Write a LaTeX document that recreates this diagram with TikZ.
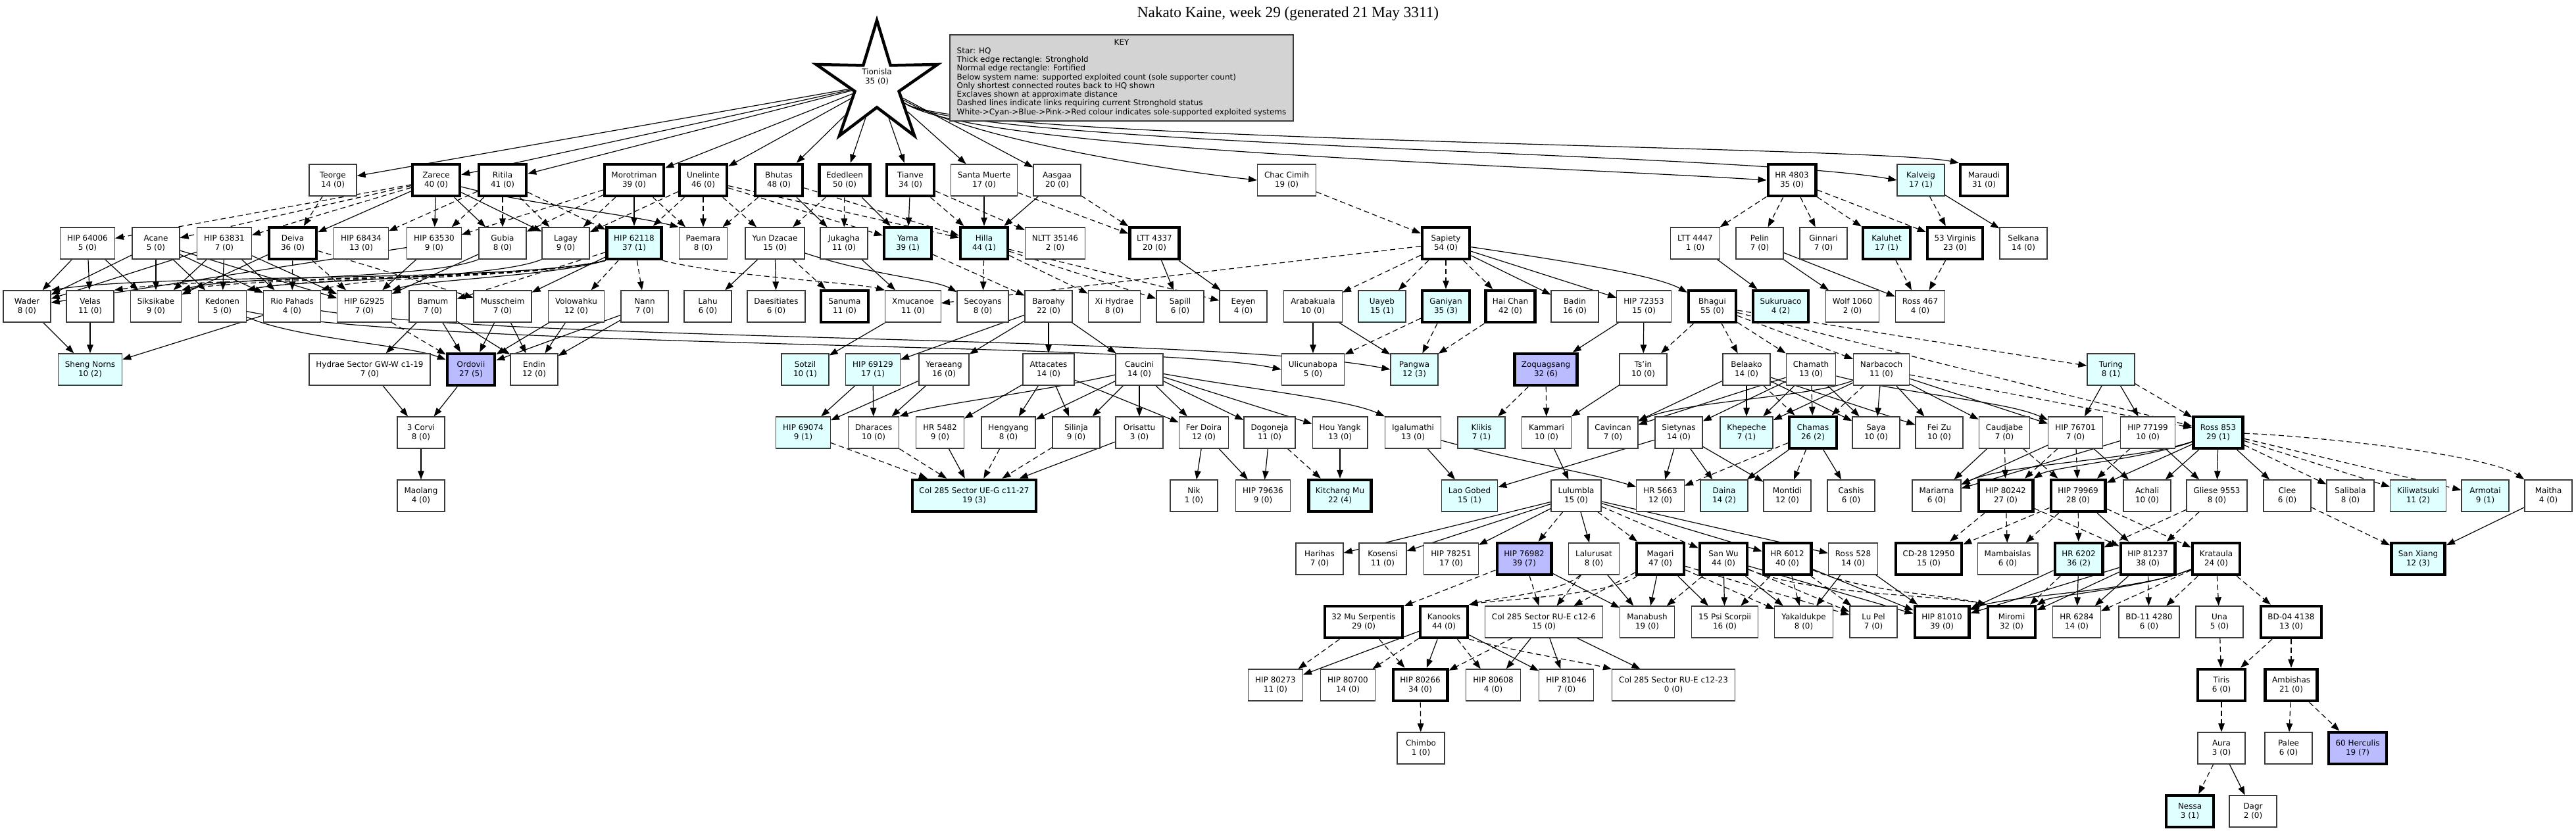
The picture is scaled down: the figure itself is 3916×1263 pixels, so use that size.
\documentclass[tikz,border=0pt]{standalone}
\usepackage{fontspec}
\setmainfont{DejaVu Sans}
\newfontfamily\titlefont{Liberation Serif}
\usetikzlibrary{arrows.meta,shapes.geometric}
\definecolor{cyanf}{HTML}{E0FFFF}
\definecolor{bluef}{HTML}{BBBBFF}
\definecolor{keyf}{HTML}{D3D3D3}
\definecolor{bord}{HTML}{3A3A3A}
\pgfdeclarelayer{bg}
\pgfsetlayers{bg,main}
\begin{document}
\begin{tikzpicture}[x=1bp,y=-1bp,
  sys/.style={draw=bord, line width=1.3bp, fill=white, minimum width=72bp, minimum height=48bp,
    inner xsep=10.5bp, inner ysep=2bp, align=center, font=\fontsize{12}{14}\selectfont},
  strong/.style={draw=black, line width=4.5bp},
  cy/.style={fill=cyanf},
  bl/.style={fill=bluef},
  sol/.style={line width=1.2bp, -{Triangle[length=13bp,width=9.5bp]}},
  dsh/.style={sol, dash pattern=on 8bp off 5bp}]
\useasboundingbox (0,0) rectangle (3916,1263);

% title, key, HQ
\node[font=\titlefont\fontsize{23.3}{28}\selectfont] (title) at (1958,21) {Nakato Kaine, week 29 (generated 21 May 3311)};
\node[draw=bord, line width=1.3bp, fill=keyf, minimum width=522bp, minimum height=131bp, inner sep=0pt,
  font=\fontsize{12}{13.3}\selectfont] (key) at (1705,118.5)
  {\begin{tabular}{@{}l@{}}\multicolumn{1}{@{}c@{}}{KEY}\\
  Star: HQ\\
  Thick edge rectangle: Stronghold\\
  Normal edge rectangle: Fortified\\
  Below system name: supported exploited count (sole supporter count)\\
  Only shortest connected routes back to HQ shown\\
  Exclaves shown at approximate distance\\
  Dashed lines indicate links requiring current Stronghold status\\
  White->Cyan->Blue->Pink->Red colour indicates sole-supported exploited systems\end{tabular}};
\node[star, star points=5, star point ratio=2.75, minimum size=194bp, inner sep=0pt, draw=black, line width=4.5bp, fill=white] (hq) at (1333,128) {};
\node[align=center, font=\fontsize{12}{14}\selectfont] (hqlabel) at (1333,117) {Tionisla\\35 (0)};

% Row A
\node[sys] (teorge) at (506,274) {Teorge\\14 (0)};
\node[sys,strong] (zarece) at (663,274) {Zarece\\40 (0)};
\node[sys,strong] (ritila) at (764,274) {Ritila\\41 (0)};
\node[sys,strong] (morotriman) at (964,274) {Morotriman\\39 (0)};
\node[sys,strong] (unelinte) at (1069,274) {Unelinte\\46 (0)};
\node[sys,strong] (bhutas) at (1184,274) {Bhutas\\48 (0)};
\node[sys,strong] (ededleen) at (1284,274) {Ededleen\\50 (0)};
\node[sys,strong] (tianve) at (1384,274) {Tianve\\34 (0)};
\node[sys] (santamuerte) at (1496,274) {Santa Muerte\\17 (0)};
\node[sys] (aasgaa) at (1607,274) {Aasgaa\\20 (0)};
\node[sys] (chaccimih) at (1956,274) {Chac Cimih\\19 (0)};
\node[sys,strong] (hr4803) at (2724,274) {HR 4803\\35 (0)};
\node[sys,cy] (kalveig) at (2920,274) {Kalveig\\17 (1)};
\node[sys,strong] (maraudi) at (3016,274) {Maraudi\\31 (0)};

% Row B
\node[sys] (hip64006) at (133,370) {HIP 64006\\5 (0)};
\node[sys] (acane) at (237,370) {Acane\\5 (0)};
\node[sys] (hip63831) at (341,370) {HIP 63831\\7 (0)};
\node[sys,strong] (deiva) at (445,370) {Deiva\\36 (0)};
\node[sys] (hip68434) at (549,370) {HIP 68434\\13 (0)};
\node[sys] (hip63530) at (660,370) {HIP 63530\\9 (0)};
\node[sys] (gubia) at (764,370) {Gubia\\8 (0)};
\node[sys] (lagay) at (860,370) {Lagay\\9 (0)};
\node[sys,strong,cy] (hip62118) at (964,370) {HIP 62118\\37 (1)};
\node[sys] (paemara) at (1069,370) {Paemara\\8 (0)};
\node[sys] (yundzacae) at (1178,370) {Yun Dzacae\\15 (0)};
\node[sys] (jukagha) at (1283,370) {Jukagha\\11 (0)};
\node[sys,strong,cy] (yama) at (1380,370) {Yama\\39 (1)};
\node[sys,strong,cy] (hilla) at (1496,370) {Hilla\\44 (1)};
\node[sys] (nltt) at (1604,370) {NLTT 35146\\2 (0)};
\node[sys,strong] (ltt4337) at (1755,370) {LTT 4337\\20 (0)};
\node[sys,strong] (sapiety) at (2198,370) {Sapiety\\54 (0)};
\node[sys] (ltt4447) at (2577,370) {LTT 4447\\1 (0)};
\node[sys] (pelin) at (2675,370) {Pelin\\7 (0)};
\node[sys] (ginnari) at (2772,370) {Ginnari\\7 (0)};
\node[sys,strong,cy] (kaluhet) at (2868,370) {Kaluhet\\17 (1)};
\node[sys,strong] (vir53) at (2972,370) {53 Virginis\\23 (0)};
\node[sys] (selkana) at (3076,370) {Selkana\\14 (0)};

% Row C
\node[sys] (wader) at (41,466) {Wader\\8 (0)};
\node[sys] (velas) at (137,466) {Velas\\11 (0)};
\node[sys] (siksikabe) at (237,466) {Siksikabe\\9 (0)};
\node[sys] (kedonen) at (338,466) {Kedonen\\5 (0)};
\node[sys] (riopahads) at (444,466) {Rio Pahads\\4 (0)};
\node[sys] (hip62925) at (554,466) {HIP 62925\\7 (0)};
\node[sys] (bamum) at (658,466) {Bamum\\7 (0)};
\node[sys] (musscheim) at (764,466) {Musscheim\\7 (0)};
\node[sys] (volowahku) at (876,466) {Volowahku\\12 (0)};
\node[sys] (nann) at (980,466) {Nann\\7 (0)};
\node[sys] (lahu) at (1076,466) {Lahu\\6 (0)};
\node[sys] (daesitiates) at (1180,466) {Daesitiates\\6 (0)};
\node[sys,strong] (sanuma) at (1284,466) {Sanuma\\11 (0)};
\node[sys] (xmucanoe) at (1388,466) {Xmucanoe\\11 (0)};
\node[sys] (secoyans) at (1494,466) {Secoyans\\8 (0)};
\node[sys] (baroahy) at (1594,466) {Baroahy\\22 (0)};
\node[sys] (xihydrae) at (1694,466) {Xi Hydrae\\8 (0)};
\node[sys] (sapill) at (1794,466) {Sapill\\6 (0)};
\node[sys] (eeyen) at (1890,466) {Eeyen\\4 (0)};
\node[sys] (arabakuala) at (1996,466) {Arabakuala\\10 (0)};
\node[sys,cy] (uayeb) at (2101,466) {Uayeb\\15 (1)};
\node[sys,strong,cy] (ganiyan) at (2198,466) {Ganiyan\\35 (3)};
\node[sys,strong] (haichan) at (2296,466) {Hai Chan\\42 (0)};
\node[sys] (badin) at (2394,466) {Badin\\16 (0)};
\node[sys] (hip72353) at (2499,466) {HIP 72353\\15 (0)};
\node[sys,strong] (bhagui) at (2603,466) {Bhagui\\55 (0)};
\node[sys,strong,cy] (sukuruaco) at (2707,466) {Sukuruaco\\4 (2)};
\node[sys] (wolf) at (2816,466) {Wolf 1060\\2 (0)};
\node[sys] (ross467) at (2919,466) {Ross 467\\4 (0)};

% Row D
\node[sys,cy] (shengnorns) at (137,562) {Sheng Norns\\10 (2)};
\node[sys] (hydrae) at (562,562) {Hydrae Sector GW-W c1-19\\7 (0)};
\node[sys,strong,bl] (ordovii) at (716,562) {Ordovii\\27 (5)};
\node[sys] (endin) at (812,562) {Endin\\12 (0)};
\node[sys,cy] (sotzil) at (1224,562) {Sotzil\\10 (1)};
\node[sys,cy] (hip69129) at (1327,562) {HIP 69129\\17 (1)};
\node[sys] (yeraeang) at (1435,562) {Yeraeang\\16 (0)};
\node[sys] (attacates) at (1594,562) {Attacates\\14 (0)};
\node[sys] (caucini) at (1732,562) {Caucini\\14 (0)};
\node[sys] (ulicunabopa) at (1996,562) {Ulicunabopa\\5 (0)};
\node[sys,cy] (pangwa) at (2150,562) {Pangwa\\12 (3)};
\node[sys,strong,bl] (zoquagsang) at (2350,562) {Zoquagsang\\32 (6)};
\node[sys] (tsin) at (2498,562) {Ts'in\\10 (0)};
\node[sys] (belaako) at (2655,562) {Belaako\\14 (0)};
\node[sys] (chamath) at (2753,562) {Chamath\\13 (0)};
\node[sys] (narbacoch) at (2860,562) {Narbacoch\\11 (0)};
\node[sys,cy] (turing) at (3209,562) {Turing\\8 (1)};

% Row E
\node[sys] (corvi) at (640,658) {3 Corvi\\8 (0)};
\node[sys,cy] (hip69074) at (1221,658) {HIP 69074\\9 (1)};
\node[sys] (dharaces) at (1328,658) {Dharaces\\10 (0)};
\node[sys] (hr5482) at (1429,658) {HR 5482\\9 (0)};
\node[sys] (hengyang) at (1533,658) {Hengyang\\8 (0)};
\node[sys] (silinja) at (1636,658) {Silinja\\9 (0)};
\node[sys] (orisattu) at (1732,658) {Orisattu\\3 (0)};
\node[sys] (ferdoira) at (1830,658) {Fer Doira\\12 (0)};
\node[sys] (dogoneja) at (1930,658) {Dogoneja\\11 (0)};
\node[sys] (houyangk) at (2037,658) {Hou Yangk\\13 (0)};
\node[sys] (igalumathi) at (2148,658) {Igalumathi\\13 (0)};
\node[sys,cy] (klikis) at (2252,658) {Klikis\\7 (1)};
\node[sys] (kammari) at (2351,658) {Kammari\\10 (0)};
\node[sys] (cavincan) at (2452,658) {Cavincan\\7 (0)};
\node[sys] (sietynas) at (2552,658) {Sietynas\\14 (0)};
\node[sys,cy] (khepeche) at (2655,658) {Khepeche\\7 (1)};
\node[sys,strong,cy] (chamas) at (2756,658) {Chamas\\26 (2)};
\node[sys] (saya) at (2852,658) {Saya\\10 (0)};
\node[sys] (feizu) at (2948,658) {Fei Zu\\10 (0)};
\node[sys] (caudjabe) at (3047,658) {Caudjabe\\7 (0)};
\node[sys] (hip76701) at (3155,658) {HIP 76701\\7 (0)};
\node[sys] (hip77199) at (3265,658) {HIP 77199\\10 (0)};
\node[sys,strong,cy] (ross853) at (3372,658) {Ross 853\\29 (1)};

% Row F
\node[sys] (maolang) at (640,754) {Maolang\\4 (0)};
\node[sys,strong,cy] (colueg) at (1481,754) {Col 285 Sector UE-G c11-27\\19 (3)};
\node[sys] (nik) at (1815,754) {Nik\\1 (0)};
\node[sys] (hip79636) at (1920,754) {HIP 79636\\9 (0)};
\node[sys,strong,cy] (kitchang) at (2037,754) {Kitchang Mu\\22 (4)};
\node[sys,cy] (laogobed) at (2234,754) {Lao Gobed\\15 (1)};
\node[sys] (lulumbla) at (2396,754) {Lulumbla\\15 (0)};
\node[sys] (hr5663) at (2524,754) {HR 5663\\12 (0)};
\node[sys,cy] (daina) at (2621,754) {Daina\\14 (2)};
\node[sys] (montidi) at (2717,754) {Montidi\\12 (0)};
\node[sys] (cashis) at (2814,754) {Cashis\\6 (0)};
\node[sys] (mariarna) at (2944,754) {Mariarna\\6 (0)};
\node[sys,strong] (hip80242) at (3049,754) {HIP 80242\\27 (0)};
\node[sys,strong] (hip79969) at (3159,754) {HIP 79969\\28 (0)};
\node[sys] (achali) at (3264,754) {Achali\\10 (0)};
\node[sys] (gliese) at (3370,754) {Gliese 9553\\8 (0)};
\node[sys] (clee) at (3477,754) {Clee\\6 (0)};
\node[sys] (salibala) at (3573,754) {Salibala\\8 (0)};
\node[sys,cy] (kiliwatsuki) at (3676,754) {Kiliwatsuki\\11 (2)};
\node[sys,cy] (armotai) at (3778,754) {Armotai\\9 (1)};
\node[sys] (maitha) at (3874,754) {Maitha\\4 (0)};

% Row G
\node[sys] (harihas) at (2006,850) {Harihas\\7 (0)};
\node[sys] (kosensi) at (2102,850) {Kosensi\\11 (0)};
\node[sys] (hip78251) at (2206,850) {HIP 78251\\17 (0)};
\node[sys,strong,bl] (hip76982) at (2317,850) {HIP 76982\\39 (7)};
\node[sys] (lalurusat) at (2423,850) {Lalurusat\\8 (0)};
\node[sys,strong] (magari) at (2524,850) {Magari\\47 (0)};
\node[sys,strong] (sanwu) at (2620,850) {San Wu\\44 (0)};
\node[sys,strong] (hr6012) at (2717,850) {HR 6012\\40 (0)};
\node[sys] (ross528) at (2817,850) {Ross 528\\14 (0)};
\node[sys,strong] (cd28) at (2932,850) {CD-28 12950\\15 (0)};
\node[sys] (mambaislas) at (3052,850) {Mambaislas\\6 (0)};
\node[sys,strong,cy] (hr6202) at (3160,850) {HR 6202\\36 (2)};
\node[sys,strong] (hip81237) at (3265,850) {HIP 81237\\38 (0)};
\node[sys,strong] (krataula) at (3369,850) {Krataula\\24 (0)};
\node[sys,strong,cy] (sanxiang) at (3676,850) {San Xiang\\12 (3)};

% Row H
\node[sys,strong] (mu32) at (2073,946) {32 Mu Serpentis\\29 (0)};
\node[sys,strong] (kanooks) at (2195,946) {Kanooks\\44 (0)};
\node[sys] (colrue6) at (2347,946) {Col 285 Sector RU-E c12-6\\15 (0)};
\node[sys] (manabush) at (2504,946) {Manabush\\19 (0)};
\node[sys] (psi15) at (2622,946) {15 Psi Scorpii\\16 (0)};
\node[sys] (yakaldukpe) at (2742,946) {Yakaldukpe\\8 (0)};
\node[sys] (lupel) at (2848,946) {Lu Pel\\7 (0)};
\node[sys,strong] (hip81010) at (2952,946) {HIP 81010\\39 (0)};
\node[sys,strong] (miromi) at (3058,946) {Miromi\\32 (0)};
\node[sys] (hr6284) at (3157,946) {HR 6284\\14 (0)};
\node[sys] (bd11) at (3267,946) {BD-11 4280\\6 (0)};
\node[sys] (una) at (3374,946) {Una\\5 (0)};
\node[sys,strong] (bd04) at (3483,946) {BD-04 4138\\13 (0)};

% Row I
\node[sys] (hip80273) at (1939,1042) {HIP 80273\\11 (0)};
\node[sys] (hip80700) at (2049,1042) {HIP 80700\\14 (0)};
\node[sys,strong] (hip80266) at (2159,1042) {HIP 80266\\34 (0)};
\node[sys] (hip80608) at (2270,1042) {HIP 80608\\4 (0)};
\node[sys] (hip81046) at (2381,1042) {HIP 81046\\7 (0)};
\node[sys] (colrue23) at (2544,1042) {Col 285 Sector RU-E c12-23\\0 (0)};
\node[sys,strong] (tiris) at (3377,1042) {Tiris\\6 (0)};
\node[sys,strong] (ambishas) at (3483,1042) {Ambishas\\21 (0)};

% Row J, K
\node[sys] (chimbo) at (2160,1138) {Chimbo\\1 (0)};
\node[sys] (aura) at (3377,1138) {Aura\\3 (0)};
\node[sys] (palee) at (3479,1138) {Palee\\6 (0)};
\node[sys,strong,bl] (herc60) at (3584,1138) {60 Herculis\\19 (7)};
\node[sys,strong,cy] (nessa) at (3329,1234) {Nessa\\3 (1)};
\node[sys] (dagr) at (3425,1234) {Dagr\\2 (0)};

\begin{pgfonlayer}{bg}
\fill[white] (0,0) rectangle (3916,1263);
% HQ
\draw[sol] (hq) -- (teorge);
\draw[sol] (hq) -- (zarece);
\draw[sol] (hq) -- (ritila);
\draw[sol] (hq) -- (morotriman);
\draw[sol] (hq) -- (unelinte);
\draw[sol] (hq) -- (bhutas);
\draw[sol] (hq) -- (ededleen);
\draw[sol] (hq) -- (tianve);
\draw[sol] (hq) -- (santamuerte);
\draw[sol] (hq) -- (aasgaa);
\draw[sol] (hq) .. controls (1480,215) and (1800,262) .. (chaccimih.west);
\draw[sol] (hq) .. controls (1480,228) and (2300,250) .. (hr4803.west);
\draw[sol] (hq) .. controls (1470,222) and (2650,232) .. (kalveig.west);
\draw[sol] (hq) .. controls (1460,215) and (2850,222) .. (maraudi.north west);
% A -> B
\draw[dsh] (teorge) -- (deiva);
\draw[dsh] (zarece) -- (hip64006);
\draw[dsh] (zarece) -- (acane);
\draw[dsh] (zarece) -- (hip63831);
\draw[sol] (zarece) -- (deiva);
\draw[sol] (zarece) -- (hip63530);
\draw[sol] (zarece) -- (gubia);
\draw[sol] (zarece) -- (lagay);
\draw[sol] (zarece) .. controls (800,310) and (950,325) .. (paemara.north west);
\draw[dsh] (ritila) -- (hip68434);
\draw[dsh] (ritila) -- (hip63530);
\draw[dsh] (ritila) -- (gubia);
\draw[dsh] (ritila) -- (lagay);
\draw[dsh] (ritila) -- (hip62118);
\draw[sol] (morotriman) -- (hip62118);
\draw[dsh] (morotriman) -- (lagay);
\draw[dsh] (morotriman) -- (gubia);
\draw[dsh] (morotriman) -- (paemara);
\draw[dsh] (morotriman) -- (hip63530);
\draw[dsh] (unelinte) -- (paemara);
\draw[dsh] (unelinte) -- (yundzacae);
\draw[dsh] (unelinte) -- (hip62118);
\draw[dsh] (unelinte) -- (lagay);
\draw[dsh] (unelinte) -- (yama);
\draw[dsh] (unelinte) -- (hilla);
\draw[sol] (bhutas) -- (jukagha);
\draw[dsh] (bhutas) -- (paemara);
\draw[dsh] (bhutas) -- (hilla);
\draw[dsh] (ededleen) -- (jukagha);
\draw[sol] (ededleen) -- (yama);
\draw[dsh] (ededleen) -- (yundzacae);
\draw[sol] (tianve) -- (yama);
\draw[dsh] (tianve) -- (nltt);
\draw[dsh] (tianve) -- (hilla);
\draw[sol] (santamuerte) -- (hilla);
\draw[dsh] (santamuerte) -- (ltt4337);
\draw[sol] (aasgaa) -- (hilla);
\draw[dsh] (aasgaa) -- (ltt4337);
\draw[dsh] (chaccimih) -- (sapiety);
\draw[dsh] (hr4803) -- (ltt4447);
\draw[dsh] (hr4803) -- (pelin);
\draw[dsh] (hr4803) -- (ginnari);
\draw[dsh] (hr4803) -- (kaluhet);
\draw[dsh] (hr4803) -- (vir53);
\draw[dsh] (kalveig) -- (vir53);
\draw[sol] (kalveig) -- (selkana);
% B -> C
\draw[sol] (hip64006) -- (wader);
\draw[sol] (hip64006) -- (velas);
\draw[sol] (hip64006) -- (siksikabe);
\draw[sol] (acane) -- (wader);
\draw[sol] (acane) -- (siksikabe);
\draw[sol] (acane) -- (kedonen);
\draw[sol] (acane) -- (riopahads);
\draw[sol] (acane) -- (hip62925);
\draw[sol] (hip63831) -- (wader);
\draw[sol] (hip63831) -- (siksikabe);
\draw[sol] (hip63831) -- (kedonen);
\draw[sol] (hip63831) -- (riopahads);
\draw[sol] (hip63831) -- (hip62925);
\draw[sol] (deiva) -- (siksikabe);
\draw[dsh] (deiva) -- (riopahads);
\draw[dsh] (deiva) -- (hip62925);
\draw[dsh] (deiva) -- (musscheim);
\draw[sol] (hip63530) -- (wader);
\draw[sol] (hip63530) -- (hip62925);
\draw[sol] (gubia.south west) .. controls (650,425) and (350,420) .. (siksikabe.north east);
\draw[sol] (gubia) -- (hip62925);
\draw[sol] (lagay.south west) .. controls (750,425) and (450,425) .. (kedonen.north east);
\draw[sol] (hip62118.south west) .. controls (780,430) and (250,415) .. (wader.north east);
\draw[dsh] (hip62118.south west) .. controls (790,428) and (320,420) .. (velas.north east);
\draw[dsh] (hip62118.south west) .. controls (800,426) and (400,420) .. (siksikabe.north east);
\draw[dsh] (hip62118.south west) .. controls (810,424) and (480,420) .. (kedonen.north east);
\draw[dsh] (hip62118.south west) .. controls (820,422) and (560,420) .. (riopahads.north east);
\draw[sol] (hip62118.south west) .. controls (840,420) and (650,425) .. (hip62925.north east);
\draw[dsh] (hip62118) -- (bamum);
\draw[sol] (hip62118) -- (musscheim);
\draw[dsh] (hip62118) -- (volowahku);
\draw[dsh] (hip62118) -- (nann);
\draw[dsh] (hip62118.south east) .. controls (1100,420) and (1300,430) .. (xmucanoe.north west);
\draw[sol] (yundzacae) -- (lahu);
\draw[sol] (yundzacae) -- (daesitiates);
\draw[dsh] (yundzacae) -- (sanuma);
\draw[sol] (yundzacae) .. controls (1330,420) and (1420,425) .. (secoyans);
\draw[sol] (jukagha) -- (xmucanoe);
\draw[dsh] (yama) -- (baroahy);
\draw[dsh] (hilla) -- (secoyans);
\draw[dsh] (hilla) -- (xihydrae);
\draw[dsh] (hilla) -- (sapill);
\draw[dsh] (hilla) -- (eeyen);
\draw[sol] (ltt4337) -- (sapill);
\draw[sol] (ltt4337) -- (eeyen);
\draw[dsh] (sapiety) -- (xmucanoe);
\draw[dsh] (sapiety) -- (arabakuala);
\draw[dsh] (sapiety) -- (uayeb);
\draw[dsh] (sapiety) -- (ganiyan);
\draw[dsh] (sapiety) -- (haichan);
\draw[sol] (sapiety) -- (badin);
\draw[sol] (sapiety) -- (hip72353);
\draw[sol] (sapiety) .. controls (2400,400) and (2520,420) .. (bhagui);
\draw[sol] (ltt4447) -- (sukuruaco);
\draw[sol] (pelin) -- (wolf);
\draw[sol] (pelin) -- (ross467);
\draw[dsh] (kaluhet) -- (ross467);
\draw[dsh] (vir53) -- (ross467);
% C -> D
\draw[sol] (wader) -- (shengnorns);
\draw[sol] (velas) -- (shengnorns);
\draw[sol] (riopahads) -- (shengnorns);
\draw[sol] (kedonen) .. controls (450,515) and (620,525) .. (ordovii);
\draw[sol] (kedonen) .. controls (650,530) and (1750,520) .. (ulicunabopa.west);
\draw[sol] (riopahads) .. controls (800,520) and (1850,510) .. (pangwa.west);
\draw[dsh] (hip62925) -- (ordovii);
\draw[sol] (bamum) -- (hydrae);
\draw[sol] (bamum) -- (ordovii);
\draw[sol] (bamum) -- (endin);
\draw[sol] (musscheim) -- (ordovii);
\draw[sol] (musscheim) -- (endin);
\draw[sol] (volowahku) -- (ordovii);
\draw[sol] (volowahku) -- (endin);
\draw[sol] (nann) -- (ordovii);
\draw[sol] (nann) -- (endin);
\draw[sol] (xmucanoe) -- (sotzil);
\draw[sol] (baroahy) -- (hip69129);
\draw[sol] (baroahy) -- (yeraeang);
\draw[sol] (baroahy) -- (attacates);
\draw[sol] (baroahy) -- (caucini);
\draw[sol] (arabakuala) -- (ulicunabopa);
\draw[sol] (arabakuala) -- (pangwa);
\draw[dsh] (ganiyan) -- (ulicunabopa);
\draw[dsh] (ganiyan) -- (pangwa);
\draw[dsh] (haichan) -- (pangwa);
\draw[sol] (hip72353) -- (zoquagsang);
\draw[sol] (hip72353) -- (tsin);
\draw[dsh] (bhagui) -- (tsin);
\draw[dsh] (bhagui) -- (belaako);
\draw[dsh] (bhagui) -- (chamath);
\draw[dsh] (bhagui) -- (narbacoch);
\draw[dsh] (bhagui) -- (turing);
\draw[dsh] (bhagui) -- (ross853);
% D -> E
\draw[sol] (hydrae) -- (corvi);
\draw[sol] (ordovii) -- (corvi);
\draw[sol] (hip69129) -- (hip69074);
\draw[sol] (hip69129) -- (dharaces);
\draw[sol] (yeraeang) -- (hip69074);
\draw[sol] (yeraeang) -- (dharaces);
\draw[sol] (attacates) -- (hr5482);
\draw[sol] (attacates) -- (hengyang);
\draw[sol] (attacates) -- (silinja);
\draw[sol] (attacates) -- (ferdoira);
\draw[sol] (caucini) .. controls (1560,600) and (1420,615) .. (dharaces.north east);
\draw[sol] (caucini) -- (hengyang);
\draw[sol] (caucini) -- (silinja);
\draw[sol] (caucini) -- (orisattu);
\draw[sol] (caucini) -- (ferdoira);
\draw[sol] (caucini) -- (dogoneja);
\draw[sol] (caucini) -- (houyangk);
\draw[sol] (caucini) .. controls (1900,592) and (2050,608) .. (igalumathi.north west);
\draw[dsh] (zoquagsang) -- (klikis);
\draw[dsh] (zoquagsang) -- (kammari);
\draw[sol] (tsin) -- (kammari);
\draw[sol] (belaako) -- (cavincan);
\draw[sol] (belaako) -- (khepeche);
\draw[dsh] (belaako) -- (chamas);
\draw[sol] (belaako) -- (saya);
\draw[sol] (belaako) -- (feizu);
\draw[sol] (chamath) -- (cavincan);
\draw[sol] (chamath) -- (sietynas);
\draw[sol] (chamath) -- (khepeche);
\draw[dsh] (chamath) -- (chamas);
\draw[sol] (chamath) -- (saya);
\draw[sol] (chamath) .. controls (2900,600) and (3050,610) .. (hip76701);
\draw[sol] (narbacoch) .. controls (2750,605) and (2560,610) .. (cavincan);
\draw[sol] (narbacoch) -- (khepeche);
\draw[dsh] (narbacoch) -- (chamas);
\draw[sol] (narbacoch) -- (saya);
\draw[sol] (narbacoch) -- (feizu);
\draw[sol] (narbacoch) -- (caudjabe);
\draw[sol] (narbacoch) -- (hip76701);
\draw[dsh] (narbacoch) -- (ross853);
\draw[sol] (turing) -- (hip76701);
\draw[sol] (turing) -- (hip77199);
\draw[dsh] (turing) -- (ross853);
% E -> F
\draw[sol] (corvi) -- (maolang);
\draw[dsh] (hip69074) -- (colueg);
\draw[dsh] (dharaces) -- (colueg);
\draw[sol] (hr5482) -- (colueg);
\draw[dsh] (hengyang) -- (colueg);
\draw[dsh] (silinja) -- (colueg);
\draw[sol] (orisattu) -- (colueg);
\draw[sol] (ferdoira) -- (nik);
\draw[sol] (ferdoira) -- (hip79636);
\draw[sol] (dogoneja) -- (hip79636);
\draw[dsh] (dogoneja) -- (kitchang);
\draw[sol] (houyangk) -- (kitchang);
\draw[sol] (igalumathi) -- (laogobed);
\draw[sol] (igalumathi) .. controls (2300,700) and (2420,720) .. (hr5663.160);
\draw[sol] (kammari) -- (lulumbla);
\draw[sol] (sietynas) -- (laogobed);
\draw[sol] (sietynas) -- (hr5663);
\draw[sol] (sietynas) -- (daina);
\draw[sol] (sietynas) -- (montidi);
\draw[dsh] (chamas) -- (hr5663);
\draw[sol] (chamas) -- (daina);
\draw[dsh] (chamas) -- (montidi);
\draw[sol] (chamas) -- (cashis);
\draw[sol] (caudjabe) -- (mariarna);
\draw[dsh] (caudjabe) -- (hip80242);
\draw[dsh] (caudjabe) -- (hip79969);
\draw[sol] (hip76701) -- (mariarna);
\draw[dsh] (hip76701) -- (hip80242);
\draw[dsh] (hip76701) -- (hip79969);
\draw[sol] (hip76701) -- (achali);
\draw[sol] (hip77199) -- (mariarna);
\draw[dsh] (hip77199) -- (hip79969);
\draw[sol] (hip77199) -- (gliese);
\draw[sol] (ross853) .. controls (3250,700) and (3050,705) .. (mariarna);
\draw[sol] (ross853) .. controls (3260,698) and (3120,710) .. (hip80242);
\draw[sol] (ross853) -- (hip79969);
\draw[sol] (ross853) -- (achali);
\draw[sol] (ross853) -- (gliese);
\draw[sol] (ross853) -- (clee);
\draw[dsh] (ross853) -- (salibala);
\draw[dsh] (ross853) -- (kiliwatsuki);
\draw[dsh] (ross853) -- (armotai);
\draw[dsh] (ross853) .. controls (3500,662) and (3780,690) .. (maitha.north west);
% F -> G
\draw[sol] (lulumbla) -- (harihas);
\draw[sol] (lulumbla) -- (kosensi);
\draw[sol] (lulumbla) -- (hip78251);
\draw[dsh] (lulumbla) -- (hip76982);
\draw[sol] (lulumbla) -- (lalurusat);
\draw[dsh] (lulumbla) -- (magari);
\draw[dsh] (lulumbla) -- (sanwu);
\draw[sol] (lulumbla) -- (hr6012);
\draw[sol] (lulumbla) -- (ross528);
\draw[dsh] (hip80242) -- (cd28);
\draw[dsh] (hip80242) -- (mambaislas);
\draw[dsh] (hip80242) -- (hip81237);
\draw[dsh] (hip79969) -- (cd28);
\draw[dsh] (hip79969) -- (mambaislas);
\draw[dsh] (hip79969) -- (hr6202);
\draw[sol] (hip79969) -- (hip81237);
\draw[dsh] (hip79969) -- (krataula);
\draw[dsh] (gliese) -- (hr6202);
\draw[dsh] (gliese) -- (hip81237);
\draw[dsh] (clee) -- (sanxiang);
\draw[sol] (maitha) -- (sanxiang);
% G -> H
\draw[dsh] (hip76982) -- (mu32);
\draw[dsh] (hip76982) -- (colrue6);
\draw[sol] (hip76982) -- (manabush);
\draw[dsh] (lalurusat) .. controls (2380,900) and (2270,910) .. (kanooks.north east);
\draw[dsh] (lalurusat) -- (colrue6);
\draw[sol] (lalurusat) -- (manabush);
\draw[dsh] (magari) .. controls (2450,905) and (2280,912) .. (kanooks.north east);
\draw[dsh] (magari) -- (colrue6);
\draw[sol] (magari) -- (manabush);
\draw[sol] (magari) -- (psi15);
\draw[dsh] (magari) -- (yakaldukpe);
\draw[dsh] (magari) -- (lupel);
\draw[sol] (sanwu) -- (psi15);
\draw[sol] (sanwu) -- (yakaldukpe);
\draw[dsh] (sanwu) -- (manabush);
\draw[dsh] (sanwu) -- (lupel);
\draw[sol] (sanwu) -- (hip81010);
\draw[dsh] (sanwu) .. controls (2750,905) and (2950,905) .. (miromi.north west);
\draw[dsh] (hr6012) -- (psi15);
\draw[dsh] (hr6012) -- (yakaldukpe);
\draw[dsh] (hr6012) -- (lupel);
\draw[sol] (hr6012) -- (hip81010);
\draw[dsh] (hr6012) .. controls (2830,900) and (2960,905) .. (miromi.north west);
\draw[sol] (ross528) -- (yakaldukpe);
\draw[sol] (ross528) -- (hip81010);
\draw[sol] (hr6202) -- (hip81010);
\draw[dsh] (hr6202) -- (miromi);
\draw[sol] (hr6202) -- (hr6284);
\draw[sol] (hip81237) -- (hip81010);
\draw[sol] (hip81237) -- (miromi);
\draw[sol] (hip81237) -- (hr6284);
\draw[dsh] (hip81237) -- (bd11);
\draw[sol] (krataula) .. controls (3250,900) and (3050,905) .. (hip81010);
\draw[sol] (krataula) .. controls (3260,895) and (3120,905) .. (miromi);
\draw[dsh] (krataula) -- (hr6284);
\draw[dsh] (krataula) -- (bd11);
\draw[dsh] (krataula) -- (una);
\draw[dsh] (krataula) -- (bd04);
% H -> I
\draw[dsh] (mu32) -- (hip80273);
\draw[dsh] (mu32) -- (hip80266);
\draw[sol] (kanooks) -- (hip80273);
\draw[dsh] (kanooks) -- (hip80700);
\draw[sol] (kanooks) -- (hip80266);
\draw[dsh] (kanooks) -- (hip80608);
\draw[sol] (kanooks) -- (hip81046);
\draw[dsh] (kanooks.south east) .. controls (2300,990) and (2420,1010) .. (colrue23);
\draw[dsh] (colrue6) -- (hip80266);
\draw[sol] (colrue6) -- (hip80608);
\draw[sol] (colrue6) -- (hip81046);
\draw[sol] (colrue6) -- (colrue23);
\draw[dsh] (una) -- (tiris);
\draw[dsh] (bd04) -- (tiris);
\draw[dsh] (bd04) -- (ambishas);
% I -> J -> K
\draw[dsh] (hip80266) -- (chimbo);
\draw[dsh] (tiris) -- (aura);
\draw[dsh] (ambishas) -- (palee);
\draw[dsh] (ambishas) -- (herc60);
\draw[dsh] (aura) -- (nessa);
\draw[sol] (aura) -- (dagr);
\end{pgfonlayer}
\end{tikzpicture}
\end{document}
